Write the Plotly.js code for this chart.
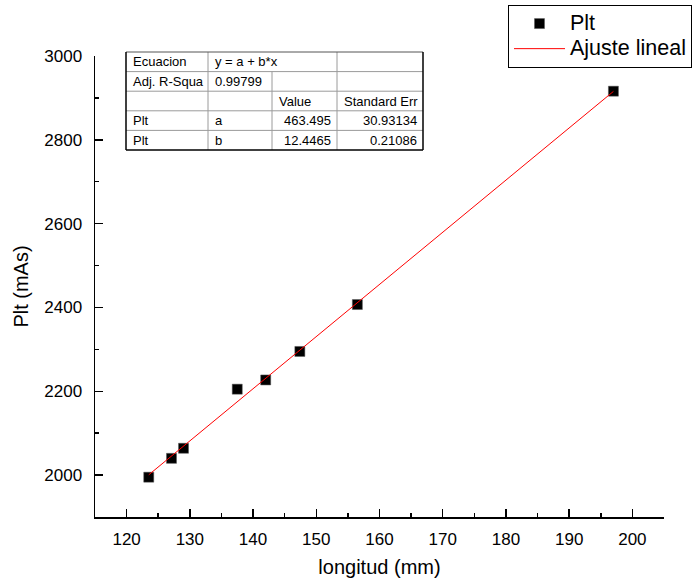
<!DOCTYPE html>
<html>
<head>
<meta charset="utf-8">
<script src="https://cdn.plot.ly/plotly-3.0.1.min.js"></script>
<style>
  html, body { margin: 0; padding: 0; background: #fff; }
  #chart { width: 692px; height: 586px; }
</style>
</head>
<body>
<div id="chart"></div>
<script>
// Measured samples: length (mm) vs Plt (mAs)
const longitud = [123.5, 127.1, 129.0, 137.5, 142.0, 147.4, 156.5, 197.0];
const plt = [1995, 2040, 2064, 2205, 2227, 2295, 2407, 2916];

// Linear fit results  y = a + b*x
const fitParamNames = ["a", "b"];
const fitValues = [463.495, 12.4465];
const fitErrors = [30.93134, 0.21086];
const adjR2 = 0.99799;
const fitEquation = "y = a + b*x";

// Series labels
const seriesNames = ["Plt", "Ajuste lineal"];

// Axis ranges
const xRange = [115, 205];
const yRange = [1900, 3000];

// Plot area geometry (px) used to place the results table and legend
const M = { l: 95, r: 28, t: 56, b: 69, autoexpand: false };
const PW = 692 - M.l - M.r;
const PH = 586 - M.t - M.b;
const px = v => (v - M.l) / PW;
const py = v => (586 - M.b - v) / PH;

// Fitted line from the fit parameters over the data span
const xFit = [Math.min(...longitud), Math.max(...longitud)];
const yFit = xFit.map(x => fitValues[0] + fitValues[1] * x);

const FONT = "Liberation Sans, Arial, sans-serif";
const legendName = s => "<span style='font-size:21.5px'>" + s + "</span>";

const traces = [
  {
    x: longitud, y: plt, type: "scatter", mode: "markers", name: legendName(seriesNames[0]),
    marker: { symbol: "square", size: 10, color: "#000000", line: { width: 0.5, color: "#555" } }
  },
  {
    x: xFit, y: yFit, type: "scatter", mode: "lines", name: legendName(seriesNames[1]),
    line: { color: "#ff0000", width: 1 }
  }
];

// Results table: column edges and row edges in px
const colEdges = [126, 208, 272, 337, 423];
const rowTop = 52, rowH = 19.6, nRows = 5;
const rowEdges = Array.from({ length: nRows + 1 }, (_, i) => rowTop + i * rowH);
const tblBottom = rowEdges[nRows];

const tableRows = [
  ["Ecuacion", fitEquation, "", ""],
  ["Adj. R-Squa", String(adjR2), "", ""],
  ["", "", "Value", "Standard Err"],
  ["Plt", fitParamNames[0], String(fitValues[0]), String(fitErrors[0])],
  ["Plt", fitParamNames[1], String(fitValues[1]), String(fitErrors[1])]
];

const shapes = [];
const gridLine = { color: "#9a9a9a", width: 1 };
const edgeLine = { color: "#000000", width: 1.5 };
function seg(x0, y0, x1, y1, line) {
  shapes.push({ type: "line", xref: "paper", yref: "paper",
    x0: px(x0), y0: py(y0), x1: px(x1), y1: py(y1), line });
}
// inner horizontal rules
for (let i = 1; i < nRows; i++) seg(colEdges[0], rowEdges[i], colEdges[4], rowEdges[i], gridLine);
// inner vertical rules (third one starts below the equation row)
seg(colEdges[1], rowTop, colEdges[1], tblBottom, gridLine);
seg(colEdges[2], rowEdges[1], colEdges[2], tblBottom, gridLine);
seg(colEdges[3], rowTop, colEdges[3], tblBottom, gridLine);
// outer frame
seg(colEdges[0], rowTop, colEdges[4], rowTop, { color: "#555", width: 1 });
seg(colEdges[0], rowTop, colEdges[0], tblBottom, edgeLine);
seg(colEdges[4], rowTop, colEdges[4], tblBottom, edgeLine);
seg(colEdges[0], tblBottom, colEdges[4], tblBottom, edgeLine);

const annotations = [];
tableRows.forEach((row, r) => {
  const yc = rowEdges[r] + rowH / 2;
  row.forEach((txt, c) => {
    if (!txt) return;
    const numeric = r >= 3 && c >= 2;
    annotations.push({
      xref: "paper", yref: "paper", showarrow: false,
      x: numeric ? px(colEdges[c + 1] - 4) : px(colEdges[c] + 5),
      xanchor: numeric ? "right" : "left",
      y: py(yc), yanchor: "middle",
      text: txt, font: { family: FONT, size: 13, color: "#000" }
    });
  });
});

const axisCommon = {
  showline: true, linecolor: "#000", linewidth: 1.5,
  ticks: "inside", ticklen: 8, tickwidth: 1.5, tickcolor: "#000",
  showgrid: false, zeroline: false, mirror: false,
  tickfont: { family: FONT, size: 17, color: "#000" }
};

const layout = {
  width: 692, height: 586,
  margin: M,
  paper_bgcolor: "#fff", plot_bgcolor: "#fff",
  font: { family: FONT, color: "#000" },
  showlegend: true,
  legend: {
    x: px(508), y: py(5), xanchor: "left", yanchor: "top",
    bordercolor: "#000", borderwidth: 1, bgcolor: "#fff",
    font: { family: FONT, size: 17, color: "#000" },
    itemwidth: 51, tracegroupgap: 0
  },
  xaxis: Object.assign({}, axisCommon, {
    range: xRange, tickmode: "linear", tick0: 120, dtick: 10,
    minor: { ticks: "inside", ticklen: 4, tickwidth: 1.5, tickcolor: "#000", dtick: 5, tick0: 115, showgrid: false },
    ticklabelstandoff: 6,
    title: { text: "longitud (mm)", font: { family: FONT, size: 20, color: "#000" }, standoff: 12 }
  }),
  yaxis: Object.assign({}, axisCommon, {
    range: yRange, tickmode: "linear", tick0: 2000, dtick: 200,
    minor: { ticks: "inside", ticklen: 4, tickwidth: 1.5, tickcolor: "#000", dtick: 100, tick0: 1900, showgrid: false },
    ticklabelstandoff: 8,
    title: { text: "Plt (mAs)", font: { family: FONT, size: 20, color: "#000" }, standoff: 10 }
  }),
  shapes, annotations
};

Plotly.newPlot("chart", traces, layout, { displayModeBar: false, staticPlot: true });
</script>
</body>
</html>
